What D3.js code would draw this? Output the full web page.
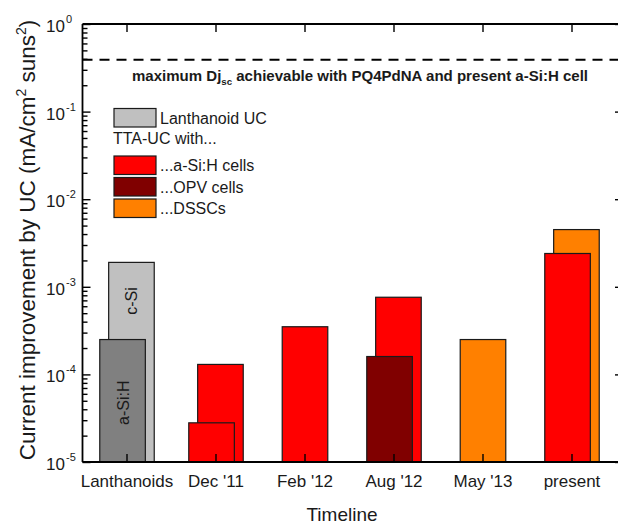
<!DOCTYPE html>
<html>
<head>
<meta charset="utf-8">
<script src="https://cdn.jsdelivr.net/npm/d3@7"></script>
<style>
  html, body { margin: 0; padding: 0; background: #fff; }
  svg { display: block; }
  text { font-family: "Liberation Sans", Arial, sans-serif; fill: #1a1a1a; }
</style>
</head>
<body>
<svg id="chart" width="618" height="525"></svg>
<script>
// ---------- data ----------
const categories = ["Lanthanoids", "Dec '11", "Feb '12", "Aug '12", "May '13", "present"];
// rear (right-hand) bar of each group; null = none
const rearValues = [1.9e-3, 1.3e-4, null, 7.6e-4, null, 4.5e-3];
const rearSeries = ["lanCSi", "aSi", null, "aSi", null, "dssc"];
// front (left-hand) bar of each group
const frontValues = [2.5e-4, 2.8e-5, 3.5e-4, 1.6e-4, 2.5e-4, 2.4e-3];
const frontSeries = ["lanASi", "aSi", "aSi", "opv", "dssc", "aSi"];
const barLabels = { lanCSi: "c-Si", lanASi: "a-Si:H" };
const seriesKeys = ["lanCSi", "lanASi", "aSi", "opv", "dssc"];
const seriesColors = ["#c0c0c0", "#808080", "#ff0000", "#800000", "#ff8000"];
const maxLineValue = 0.39;
const yTickExponents = [0, -1, -2, -3, -4, -5];
const legendEntries = [
  { key: "lanCSi", label: "Lanthanoid UC" },
  { key: null, label: "TTA-UC with..." },
  { key: "aSi", label: "...a-Si:H cells" },
  { key: "opv", label: "...OPV cells" },
  { key: "dssc", label: "...DSSCs" }
];

(function () {
// ---------- layout ----------
const svg = d3.select("#chart");
const L = 82.5, R = 616.5, T = 24, B = 462;
const color = d3.scaleOrdinal().domain(seriesKeys).range(seriesColors);
const x = d3.scaleBand().domain(categories).range([L, R]).padding(0);
const y = d3.scaleLog().domain([1e-5, 1]).range([B, T]);
const bw = x.bandwidth() * 0.512;
const off = x.bandwidth() * 0.05;

// bars
const bars = [];
categories.forEach((c, i) => {
  const two = rearValues[i] != null;
  if (two) bars.push({ c, v: rearValues[i], s: rearSeries[i], shift: off });
  bars.push({ c, v: frontValues[i], s: frontSeries[i], shift: two ? -off : 0 });
});
const barG = svg.append("g");
barG.selectAll("rect").data(bars).join("rect")
  .attr("x", d => x(d.c) + x.bandwidth() / 2 + d.shift - bw / 2)
  .attr("y", d => y(d.v))
  .attr("width", bw)
  .attr("height", d => y(1e-5) - y(d.v))
  .attr("fill", d => color(d.s))
  .attr("stroke", "#1a1a1a")
  .attr("stroke-width", 1.2);

// in-bar labels
barG.selectAll("text").data(bars.filter(d => barLabels[d.s])).join("text")
  .attr("transform", d => {
    const cx = x(d.c) + x.bandwidth() / 2 + d.shift;
    const topY = y(d.v);
    const cy = d.s === "lanCSi" ? (topY + y(2.5e-4)) / 2 : (topY + B) / 2 + 2;
    return `translate(${cx + 6},${cy}) rotate(-90)`;
  })
  .attr("text-anchor", "middle")
  .style("font-size", "16px")
  .text(d => barLabels[d.s]);

// dashed maximum line
svg.append("line")
  .attr("x1", L).attr("x2", 618)
  .attr("y1", y(maxLineValue)).attr("y2", y(maxLineValue))
  .attr("stroke", "#000").attr("stroke-width", 2)
  .attr("stroke-dasharray", "10,7");
const ann = svg.append("text")
  .attr("x", 132).attr("y", 80.5)
  .attr("textLength", 456).attr("lengthAdjust", "spacingAndGlyphs")
  .style("font-size", "14px").style("font-weight", "bold");
ann.append("tspan").text("maximum Dj");
ann.append("tspan").attr("dy", 4).style("font-size", "9px").text("sc");
ann.append("tspan").attr("dy", -4).text(" achievable with PQ4PdNA and present a-Si:H cell");

// axes
const minorTicks = [];
for (let e = -5; e < 0; e++) for (let k = 2; k <= 9; k++) minorTicks.push(k * Math.pow(10, e));
const majorVals = yTickExponents.map(e => Math.pow(10, e));

const gLeft = svg.append("g").attr("transform", `translate(${L},0)`);
gLeft.call(d3.axisRight(y).tickValues(majorVals).tickSize(8).tickFormat(""));
gLeft.append("g").call(d3.axisRight(y).tickValues(minorTicks).tickSize(5).tickFormat(""));
const gRight = svg.append("g").attr("transform", `translate(621,0)`);
gRight.call(d3.axisLeft(y).tickValues(majorVals).tickSize(6).tickFormat(""));
const gBottom = svg.append("g").attr("transform", `translate(0,${B})`);
gBottom.call(d3.axisTop(x).tickSize(8).tickFormat(""));
const gTop = svg.append("g").attr("transform", `translate(0,${T})`);
gTop.call(d3.axisBottom(x).tickSize(8).tickFormat(""));
[gLeft, gRight, gBottom, gTop].forEach(g => {
  g.selectAll("path.domain").remove();
  g.selectAll("line").attr("stroke", "#000").attr("stroke-width", 1.4);
});
// frame lines
svg.append("line").attr("x1", L).attr("x2", L).attr("y1", T).attr("y2", B).attr("stroke", "#000").attr("stroke-width", 1.8);
svg.append("line").attr("x1", L).attr("x2", 618).attr("y1", B).attr("y2", B).attr("stroke", "#000").attr("stroke-width", 1.8);
svg.append("line").attr("x1", L).attr("x2", 618).attr("y1", T).attr("y2", T).attr("stroke", "#000").attr("stroke-width", 1.8);

// y tick labels
const yl = svg.append("g");
yTickExponents.forEach(e => {
  yl.append("text")
    .attr("x", 65).attr("y", y(Math.pow(10, e)) + 8)
    .attr("text-anchor", "end")
    .style("font-size", "17px")
    .text("10");
  yl.append("text")
    .attr("x", 66).attr("y", y(Math.pow(10, e)) - 1)
    .style("font-size", "11px")
    .text(String(e));
});

// x tick labels
svg.append("g").selectAll("text").data(categories).join("text")
  .attr("x", d => x(d) + x.bandwidth() / 2)
  .attr("y", 487)
  .attr("text-anchor", "middle")
  .style("font-size", "17px")
  .text(d => d);

// axis titles
svg.append("text")
  .attr("x", 342).attr("y", 521)
  .attr("text-anchor", "middle")
  .style("font-size", "19px")
  .text("Timeline");
const yt = svg.append("text")
  .attr("transform", `translate(35,${240}) rotate(-90)`)
  .attr("text-anchor", "middle")
  .style("font-size", "22.5px");
yt.append("tspan").text("Current improvement by UC (mA/cm");
yt.append("tspan").attr("dy", -9).style("font-size", "14px").text("2");
yt.append("tspan").attr("dy", 9).text(" suns");
yt.append("tspan").attr("dy", -9).style("font-size", "14px").text("2");
yt.append("tspan").attr("dy", 9).text(")");

// legend
const lg = svg.append("g");
const legendRowY = [108.5, 0, 156, 177.5, 199];
legendEntries.forEach((d, i) => {
  if (d.key) {
    lg.append("rect")
      .attr("x", 114).attr("y", legendRowY[i])
      .attr("width", 42).attr("height", 18.5)
      .attr("fill", color(d.key)).attr("stroke", "#1a1a1a").attr("stroke-width", 1.2);
    lg.append("text").attr("x", 160).attr("y", legendRowY[i] + 15).style("font-size", "16px").text(d.label);
  } else {
    lg.append("text").attr("x", 113).attr("y", 143.5).style("font-size", "16px").text(d.label);
  }
});
})();
</script>
</body>
</html>
